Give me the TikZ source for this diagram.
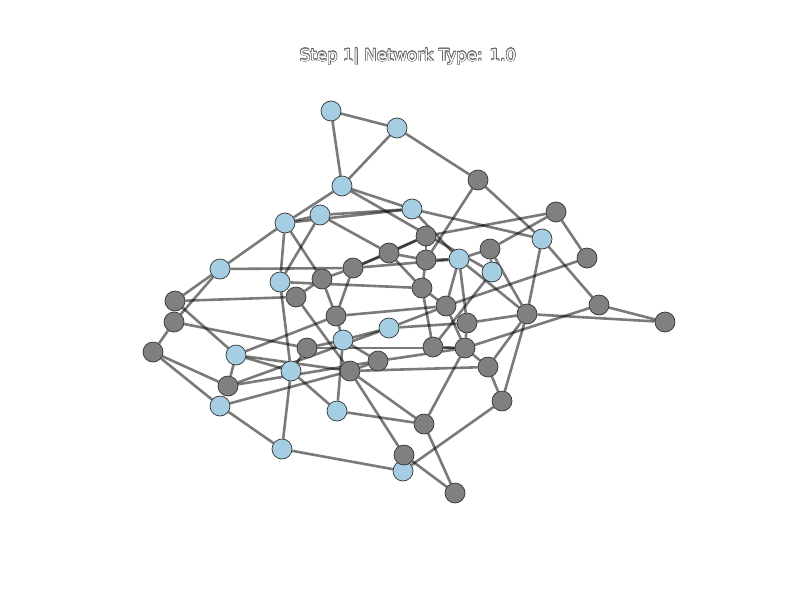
\documentclass[tikz,border=0pt]{standalone}
\usepackage{fontspec}
\setmainfont{DejaVu Sans}
\usepackage{contour}
\contourlength{0.6pt}
\pgfdeclarelayer{background}
\pgfsetlayers{background,main}
\tikzset{
  lb/.style={circle,draw=black!80,line width=0.7pt,fill={rgb,255:red,166;green,206;blue,227},minimum size=20pt,inner sep=0pt},
  gr/.style={circle,draw=black!80,line width=0.7pt,fill={rgb,255:red,128;green,128;blue,128},minimum size=20pt,inner sep=0pt},
  edge/.style={draw=black,opacity=0.52,line width=2.6pt}
}
\begin{document}
\begin{tikzpicture}[x=1pt,y=-1pt]
\useasboundingbox (0,0) rectangle (800,600);
\node (title) at (408,57) {\fontsize{16.6}{18}\selectfont\contour{black!60}{\textcolor{white}{Step 1| Network Type: 1.0}}};
% light blue nodes
\node[lb] (a1) at (331,111) {};
\node[lb] (a2) at (397,128) {};
\node[lb] (a3) at (342,186) {};
\node[lb] (a4) at (285,223) {};
\node[lb] (a5) at (320,215) {};
\node[lb] (a6) at (412,209) {};
\node[lb] (a7) at (542,239) {};
\node[lb] (a8) at (220,269) {};
\node[lb] (a9) at (280,282) {};
\node[lb] (a10) at (459,259) {};
\node[lb] (a11) at (492,272) {};
\node[lb] (a12) at (389,328) {};
\node[lb] (a13) at (343,340) {};
\node[lb] (a14) at (236,355) {};
\node[lb] (a15) at (291,371) {};
\node[lb] (a16) at (220,406) {};
\node[lb] (a17) at (337,411) {};
\node[lb] (a18) at (282,449) {};
\node[lb] (a19) at (403,471) {};
% gray nodes
\node[gr] (g1) at (478,180) {};
\node[gr] (g2) at (556,212) {};
\node[gr] (g3) at (587,258) {};
\node[gr] (g4) at (426,236) {};
\node[gr] (g5) at (490,249) {};
\node[gr] (g6) at (389,253) {};
\node[gr] (g7) at (426,260) {};
\node[gr] (g8) at (353,268) {};
\node[gr] (g9) at (322,279) {};
\node[gr] (g10) at (296,297) {};
\node[gr] (g11) at (175,301) {};
\node[gr] (g12) at (174,322) {};
\node[gr] (g13) at (422,288) {};
\node[gr] (g14) at (446,306) {};
\node[gr] (g15) at (599,305) {};
\node[gr] (g16) at (665,322) {};
\node[gr] (g17) at (527,314) {};
\node[gr] (g18) at (467,323) {};
\node[gr] (g19) at (336,316) {};
\node[gr] (g20) at (153,352) {};
\node[gr] (g21) at (307,348) {};
\node[gr] (g22) at (433,347) {};
\node[gr] (g23) at (465,348) {};
\node[gr] (g24) at (378,361) {};
\node[gr] (g25) at (350,371) {};
\node[gr] (g26) at (488,367) {};
\node[gr] (g27) at (228,386) {};
\node[gr] (g28) at (502,401) {};
\node[gr] (g29) at (424,424) {};
\node[gr] (g30) at (404,455) {};
\node[gr] (g31) at (455,493) {};
% edges
\begin{pgfonlayer}{background}
\foreach \u/\v in {a1/a2,a1/a3,a2/a3,a2/g1,a3/a4,a3/a6,a3/a11,a4/a5,a4/a6,a4/a8,a4/a9,a4/g9,
  a5/a6,a5/a9,a5/g6,a6/a7,a6/a10,g1/a7,g1/g7,g2/g4,g2/g5,g2/g3,a7/g15,a7/g17,g15/g16,g15/g23,
  g17/g16,g3/g14,a12/g14,a12/g18,g17/g18,g17/g28,g17/g26,g26/g28,g28/a19,g29/g31,g29/g23,
  g29/a17,g29/g25,g30/g31,g30/g25,g23/g26,g22/g23,g14/g23,g13/g14,g4/g6,g4/g7,g6/g7,g8/g6,
  g8/g4,g7/g13,a10/g5,g7/a10,a10/g14,a10/g18,a10/g17,g5/g17,a11/g5,a11/g22,a8/g8,a8/g11,a8/g12,g11/g10,
  g11/a14,g12/g21,g12/g20,g20/g27,g20/a16,a14/g27,a14/g19,a14/a15,a14/g25,a9/a15,a15/a18,
  a15/a17,a15/g21,a13/a17,g21/a13,g21/g23,a13/a12,g25/g24,g10/g25,a16/a18,a16/g25,g27/a12,
  g27/g24,a18/a19,g9/g8,g9/g10,g8/g19,g9/g19,g19/a13,g19/g14,g24/a13,g26/g25,g24/g23,
  a9/g13,g8/a10,g6/g13,g18/g23,g13/g22}
  \draw[edge] (\u) -- (\v);
\end{pgfonlayer}
\end{tikzpicture}
\end{document}
